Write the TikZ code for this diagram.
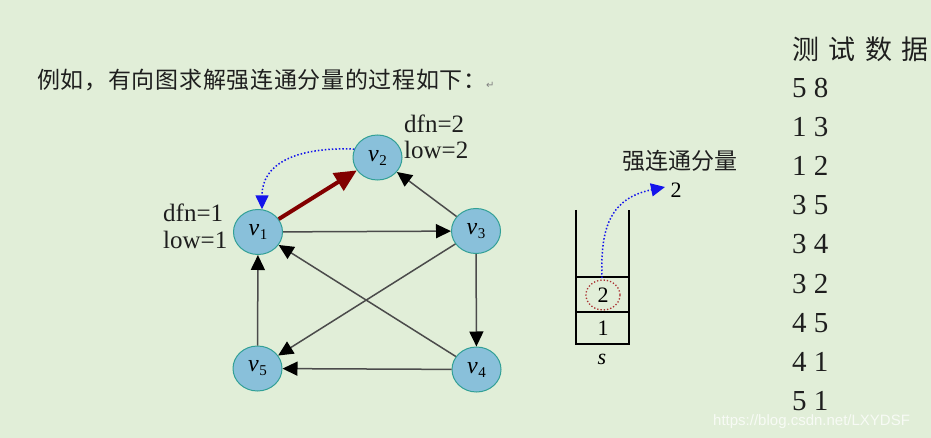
\documentclass[tikz,border=0pt]{standalone}
\usepackage{fontspec}
\setmainfont{Liberation Serif}
\newfontfamily\cjk{Noto Sans CJK SC}
\newfontfamily\dejavu{DejaVu Sans}
\newfontfamily\wmfont{Liberation Sans}
\usetikzlibrary{arrows.meta,shapes.geometric}
\definecolor{bgcol}{RGB}{225,238,216}
\definecolor{nodefill}{RGB}{137,192,218}
\definecolor{nodeline}{RGB}{50,160,150}
\definecolor{edgegray}{RGB}{75,75,75}
\definecolor{darkred}{RGB}{130,0,0}
\definecolor{dotblue}{RGB}{20,20,235}
\definecolor{circred}{RGB}{170,50,50}
\definecolor{txt}{RGB}{30,30,30}
\tikzset{
  vert/.style={ellipse, draw=nodeline, fill=nodefill, line width=1pt,
    minimum width=49pt, minimum height=45pt, inner sep=0pt},
  edge/.style={draw=edgegray, line width=1.5pt,
    -{Triangle[length=15pt,width=14pt,fill=black,color=black]}},
  treeedge/.style={draw=darkred, line width=4pt,
    -{Triangle[length=22pt,width=20pt]}},
  backedge/.style={draw=dotblue, line width=1.5pt, dotted,
    -{Triangle[length=14pt,width=13pt]}},
  lbl/.style={anchor=base west, inner sep=0pt, text=txt},
  stackline/.style={draw=black, line width=1.2pt},
}
\newcommand{\vlab}[1]{\fontsize{24}{24}\selectfont\itshape v\kern0.5pt\raisebox{-4pt}{\upshape\fontsize{15}{15}\selectfont #1}}
\begin{document}
\begin{tikzpicture}[x=1pt,y=-1pt]
\fill[bgcol] (0,0) rectangle (931,438);
\useasboundingbox (0,0) rectangle (931,438);

% title
\node[lbl] (title) at (37,89) {\cjk\fontsize{23}{23}\selectfont\addfontfeature{LetterSpace=3}例如，有向图求解强连通分量的过程如下：};
\node[lbl, text=gray] (ret) at (486,89) {\dejavu\fontsize{10}{10}\selectfont ↵};

% vertices
\node[vert] (v1) at (258,232) {\vlab{1}};
\node[vert] (v2) at (377.5,157.5) {\vlab{2}};
\node[vert] (v3) at (476,231) {\vlab{3}};
\node[vert] (v4) at (476.5,369.5) {\vlab{4}};
\node[vert] (v5) at (257.5,368.5) {\vlab{5}};

% labels
\node[lbl] (d2) at (404,132.5) {\fontsize{25}{25}\selectfont dfn=2};
\node[lbl] (l2) at (404,158.3) {\fontsize{25}{25}\selectfont low=2};
\node[lbl] (d1) at (163,222) {\fontsize{25}{25}\selectfont dfn=1};
\node[lbl] (l1) at (163,248) {\fontsize{25}{25}\selectfont low=1};

% edges
\draw[edge] (v1) -- (v3);
\draw[edge] (v3) -- (v2);
\draw[edge] (v3) -- (v4);
\draw[edge] (v3) -- (v5);
\draw[edge] (v4) -- (v1);
\draw[edge] (v4) -- (v5);
\draw[edge] (v5) -- (v1);
\draw[treeedge] (v1) -- (v2);
\draw[backedge] (v2.160) .. controls +(-60,-2) and +(0,-45) .. (v1.80);

% stack
\draw[stackline] (576,210) -- (576,344) -- (629,344) -- (629,210);
\draw[stackline] (576,277) -- (629,277);
\draw[stackline] (576,312) -- (629,312);
\node[inner sep=0pt] (s2) at (603,295) {\fontsize{22}{22}\selectfont 2};
\node[inner sep=0pt] (s1) at (603,328) {\fontsize{22}{22}\selectfont 1};
\node[inner sep=0pt] (sname) at (602,359) {\fontsize{22}{22}\selectfont\itshape s};
\draw[circred, dotted, line width=1.3pt] (s2) ellipse [x radius=17, y radius=15];

\node[lbl] (scc) at (622,170) {\cjk\fontsize{23}{23}\selectfont 强连通分量};
\node[inner sep=0pt] (scc2) at (676,190) {\fontsize{22}{22}\selectfont 2};
\coordinate (tip) at (665,187);
\coordinate (from) at (602,278);
\draw[backedge] (from) .. controls (600,225) and (612,198) .. (tip);

% test data
\node[lbl] (tt) at (792,60) {\cjk\fontsize{27}{27}\selectfont\addfontfeature{LetterSpace=35}测试数据};
\foreach \t [count=\i from 0] in {5 8,1 3,1 2,3 5,3 4,3 2,4 5,4 1,5 1}{
  \node[lbl] (d\i) at (792,98+39*\i) {\fontsize{29}{29}\selectfont \t};
}

% watermark
\node[lbl, text=white, opacity=0.75] (wm) at (713,425) {\wmfont\fontsize{15}{15}\selectfont https://blog.csdn.net/LXYDSF};
\end{tikzpicture}
\end{document}
